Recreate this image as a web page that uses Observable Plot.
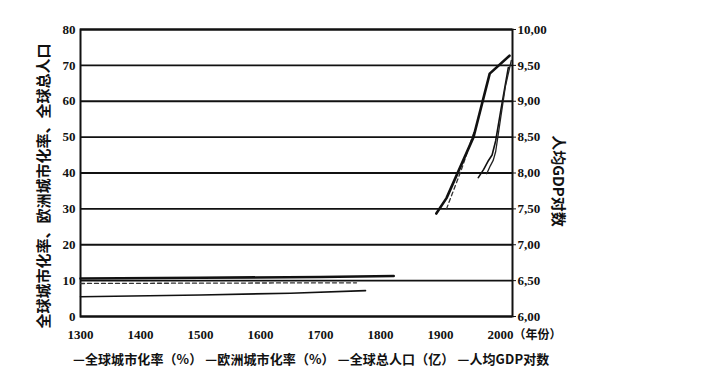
<!DOCTYPE html>
<html>
<head>
<meta charset="utf-8">
<script src="https://cdn.jsdelivr.net/npm/d3@7"></script>
<script src="https://cdn.jsdelivr.net/npm/@observablehq/plot@0.6"></script>
<style>
  body { margin: 0; background: #fff; width: 706px; height: 388px; overflow: hidden; position: relative; }
  #chart svg { display: block; }
  #legend { position: absolute; left: 73px; top: 349px; font: 700 13px "Noto Sans CJK SC", sans-serif; color: #111; white-space: nowrap; letter-spacing: 0.1px; }
</style>
</head>
<body>
<div id="chart"></div>
<div id="legend"></div>
<script>
// X axis (years)
const xTicks = [1300, 1400, 1500, 1600, 1700, 1800, 1900, 2000];
// Left axis ticks
const leftTicks = [0, 10, 20, 30, 40, 50, 60, 70, 80];
// Right axis tick labels (人均GDP对数), aligned with left ticks
const rightTickLabels = ["6,00", "6,50", "7,00", "7,50", "8,00", "8,50", "9,00", "9,50", "10,00"];

const seriesNames = ["全球城市化率（%）", "欧洲城市化率（%）", "全球总人口（亿）", "人均GDP对数"];

// 全球总人口（亿） — null marks a break in the drawn line
const popYears  = [1300, 1500, 1700, 1822, 1860, 1893, 1910, 1955, 1982, 2015];
const popValues = [10.6, 10.8, 11.0, 11.3, null, 28.7, 33.0, 50.0, 67.7, 72.7];

// 全球城市化率（%）
const urbYears  = [1300, 1500, 1650, 1775, 1870, 1963, 1972, 1980, 1986, 1992, 2000, 2013];
const urbValues = [5.5, 6.0, 6.5, 7.2, null, 38.7, 41.0, 43.5, 45.0, 49.0, 57.0, 69.4];

// 欧洲城市化率（%）
const euYears  = [1300, 1500, 1760, 1860, 1910, 1935, 1957];
const euValues = [9.2, 9.3, 9.4, null, 30.0, 41.0, 52.0];

// 人均GDP对数
const gdpYears  = [1977, 1983, 1988, 1992, 2000, 2008, 2018];
const gdpValues = [7.99, 8.10, 8.18, 8.30, 8.75, 9.20, 9.57];

const toRows = (ys, vs) => ys.map((y, i) => ({year: y, v: vs[i]}));
const pop = toRows(popYears, popValues);
const urb = toRows(urbYears, urbValues);
const eu = toRows(euYears, euValues);
const gdp = toRows(gdpYears, gdpValues).map(d => ({year: d.year, v: d.v == null ? null : (d.v - 6) * 20}));

const tickFont = "Liberation Serif";

const chart = Plot.plot({
  width: 706,
  height: 348,
  marginLeft: 80,
  marginRight: 194,
  marginTop: 29,
  marginBottom: 32,
  style: {fontFamily: tickFont, fontSize: "13px", fontWeight: "bold", color: "#111", background: "#fff"},
  x: {domain: [1300, 2020]},
  y: {domain: [0, 80]},
  marks: [
    Plot.ruleY(leftTicks, {stroke: "#111", strokeWidth: 1.8}),
    Plot.frame({stroke: "#111", strokeWidth: 2}),
    Plot.axisX({ticks: xTicks, tickSize: 0, tickPadding: 13, tickFormat: d => String(d), fontSize: 13, label: null}),
    Plot.axisY({ticks: leftTicks, anchor: "left", tickSize: 0, tickPadding: 5, fontSize: 13, label: null}),
    Plot.axisY({ticks: leftTicks, anchor: "right", tickSize: 3, tickPadding: 2, fontSize: 13, label: null,
      tickFormat: d => rightTickLabels[leftTicks.indexOf(d)]}),
    Plot.text(["（年份）"], {frameAnchor: "bottom-right", dx: 1, dy: 22, textAnchor: "start", fontSize: 12, fontFamily: "Noto Sans CJK SC"}),
    Plot.text(["全球城市化率、欧洲城市化率、全球总人口"], {frameAnchor: "left", textAnchor: "middle", dx: -36, dy: 13, rotate: -90, fontSize: 15, fontFamily: "Noto Sans CJK SC", fontWeight: "bold"}),
    Plot.text(["人均GDP对数"], {frameAnchor: "right", textAnchor: "middle", dx: 45, dy: 8, rotate: 90, fontSize: 15, fontFamily: "Noto Sans CJK SC", fontWeight: "bold"}),
    Plot.line(eu, {x: "year", y: "v", stroke: "#333", strokeWidth: 1.3, strokeDasharray: "4,3"}),
    Plot.line(urb, {x: "year", y: "v", stroke: "#111", strokeWidth: 1.6}),
    Plot.line(gdp, {x: "year", y: "v", stroke: "#222", strokeWidth: 1.3}),
    Plot.line(pop, {x: "year", y: "v", stroke: "#111", strokeWidth: 2.6})
  ]
});
document.getElementById("chart").appendChild(chart);
document.getElementById("legend").textContent = seriesNames.map(s => "—" + s).join(" ");
</script>
</body>
</html>
